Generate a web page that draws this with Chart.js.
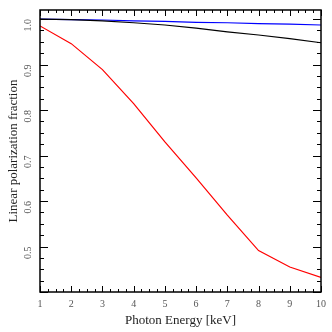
<!DOCTYPE html>
<html>
<head>
<meta charset="utf-8">
<script src="https://cdn.jsdelivr.net/npm/chart.js@4"></script>
<style>
  html, body { margin: 0; padding: 0; background: #fff; }
  #wrap { width: 332px; height: 332px; }
</style>
</head>
<body>
<div id="wrap"><canvas id="c"></canvas></div>
<script>
const energies = [1, 2, 3, 4, 5, 6, 7, 8, 9, 10]
const redFraction = [0.985, 0.946, 0.889, 0.814, 0.730, 0.651, 0.569, 0.491, 0.455, 0.432]
const blackFraction = [1.000, 0.999, 0.996, 0.992, 0.987, 0.980, 0.972, 0.965, 0.957, 0.948]
const blueFraction = [1.000, 0.999, 0.998, 0.996, 0.995, 0.993, 0.992, 0.990, 0.989, 0.987]
const yTickLabels = [0.5, 0.6, 0.7, 0.8, 0.9, 1.0]

const FONT = "'Liberation Serif', 'DejaVu Serif', serif"

const toPoints = (vals) => energies.map((x, i) => ({ x: x, y: vals[i] }))

// inward ticks on all four sides plus the frame
const frameTicks = {
  id: "frameTicks",
  afterDatasetsDraw(chart) {
    const ctx = chart.ctx
    const a = chart.chartArea
    const xs = chart.scales.x
    const ys = chart.scales.y
    ctx.save()
    ctx.strokeStyle = "#000"
    ctx.lineWidth = 1
    ctx.beginPath()
    for (let v = 1; v <= 10.001; v += 0.25) {
      const px = Math.round(xs.getPixelForValue(v)) + 0.5
      const len = Math.abs(v - Math.round(v)) < 1e-6 ? 6 : 3
      ctx.moveTo(px, a.bottom); ctx.lineTo(px, a.bottom - len)
      ctx.moveTo(px, a.top); ctx.lineTo(px, a.top + len)
    }
    for (let k = 0; k <= 24; k++) {
      const v = 0.4 + k * 0.025
      const py = Math.round(ys.getPixelForValue(v)) + 0.5
      const len = k % 4 === 0 ? 8 : 4
      ctx.moveTo(a.left, py); ctx.lineTo(a.left + len, py)
      ctx.moveTo(a.right, py); ctx.lineTo(a.right - len, py)
    }
    ctx.stroke()
    ctx.lineWidth = 1.5
    ctx.strokeRect(a.left, a.top, a.right - a.left, a.bottom - a.top)
    ctx.restore()
  }
}

new Chart(document.getElementById("c"), {
  type: "line",
  data: {
    datasets: [
      { data: toPoints(redFraction), borderColor: "#ff0000" },
      { data: toPoints(blackFraction), borderColor: "#000000" },
      { data: toPoints(blueFraction), borderColor: "#0000ff" }
    ]
  },
  options: {
    responsive: true,
    maintainAspectRatio: false,
    animation: false,
    layout: { padding: { top: 5, right: 11, left: 0, bottom: 0 } },
    elements: {
      point: { radius: 0 },
      line: { borderWidth: 1.2, tension: 0, fill: false }
    },
    plugins: { legend: { display: false }, tooltip: { enabled: false } },
    scales: {
      x: {
        type: "linear",
        min: 1,
        max: 10,
        grid: { display: false, drawTicks: false },
        border: { display: false },
        ticks: { stepSize: 1, color: "#555", font: { family: FONT, size: 10 }, padding: 6, maxRotation: 0 },
        title: { display: true, text: "Photon Energy [keV]", color: "#222", font: { family: FONT, size: 13 }, padding: { top: 2, bottom: 4 } },
        afterFit: (s) => { s.height = 40 }
      },
      y: {
        type: "linear",
        min: 0.4,
        max: 1.02,
        grid: { display: false },
        border: { display: false },
        afterBuildTicks: (s) => { s.ticks = yTickLabels.map(v => ({ value: v })) },
        ticks: {
          color: "#555",
          font: { family: FONT, size: 10 },
          minRotation: 90,
          maxRotation: 90,
          padding: 4,
          callback: (v) => v.toFixed(1)
        },
        title: { display: true, text: "Linear polarization fraction", color: "#222", font: { family: FONT, size: 13 }, padding: { top: 6, bottom: 2 } },
        afterFit: (s) => { s.width = 40 }
      }
    }
  },
  plugins: [frameTicks]
})
</script>
</body>
</html>
